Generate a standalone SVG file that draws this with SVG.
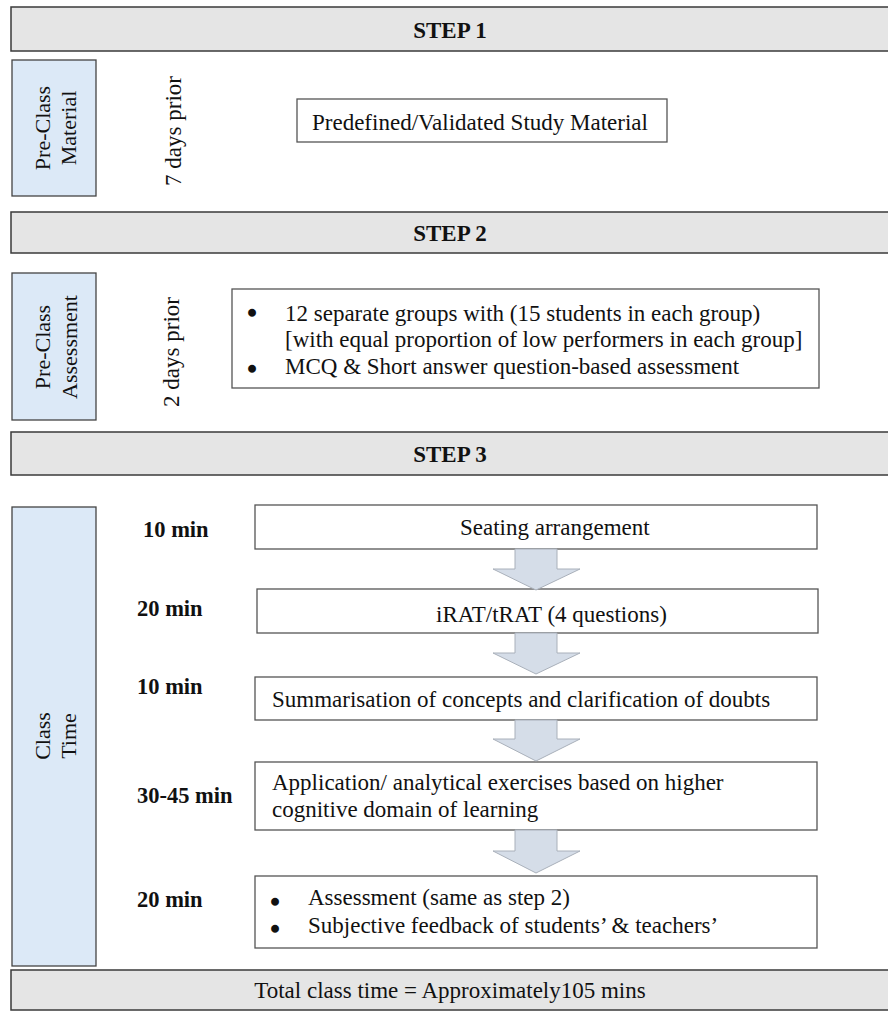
<svg xmlns="http://www.w3.org/2000/svg" width="888" height="1012" viewBox="0 0 888 1012">
<defs>
<style>
.bg{fill:#ffffff}
.banner{fill:#e5e5e5;stroke:#3a3a3a;stroke-width:1.5}
.side{fill:#dce9f7;stroke:#444;stroke-width:1.3}
.box{fill:#ffffff;stroke:#555;stroke-width:1.3}
.arrow{fill:#d5dde8;stroke:#a9b0ba;stroke-width:1}
.t{font-family:"Liberation Serif","Times New Roman",serif;font-size:23px;fill:#111}
.bul{font-family:"Liberation Serif","Times New Roman",serif;font-size:23px;fill:#111;stroke:#111;stroke-width:2.4;stroke-linejoin:round}
.b{font-family:"Liberation Serif","Times New Roman",serif;font-size:23px;font-weight:bold;fill:#111}
.tm{font-family:"Liberation Serif","Times New Roman",serif;font-size:22.5px;font-weight:bold;fill:#111}
.v{font-family:"Liberation Serif","Times New Roman",serif;font-size:22px;fill:#111;text-anchor:middle}
.c{text-anchor:middle}
</style>
</defs>
<rect class="bg" x="0" y="0" width="888" height="1012"/>

<g id="step1">
<rect class="banner" x="11" y="7" width="890" height="44"/>
<text class="b c" x="450" y="38">STEP 1</text>
</g>
<g id="preclass-material">
<rect class="side" x="12" y="60" width="84" height="136"/>
<text class="v" transform="translate(50,128) rotate(-90)">Pre-Class</text>
<text class="v" transform="translate(76,128) rotate(-90)">Material</text>
</g>
<g id="days7">
<text class="t" text-anchor="middle" transform="translate(181,131) rotate(-90)">7 days prior</text>
</g>
<g id="study-material">
<rect class="box" x="297" y="99" width="370" height="43"/>
<text class="t" x="312" y="130">Predefined/Validated Study Material</text>
</g>

<g id="step2">
<rect class="banner" x="11" y="212" width="890" height="41"/>
<text class="b c" x="450" y="241">STEP 2</text>
</g>
<g id="preclass-assessment">
<rect class="side" x="12" y="273" width="84" height="147"/>
<text class="v" transform="translate(50,347) rotate(-90)">Pre-Class</text>
<text class="v" transform="translate(77,347) rotate(-90)">Assessment</text>
</g>
<g id="days2">
<text class="t" text-anchor="middle" transform="translate(179,352) rotate(-90)">2 days prior</text>
</g>
<g id="groups">
<rect class="box" x="232" y="289" width="587" height="99"/>
<text class="bul" x="248" y="321">•</text>
<text class="t" x="285" y="321">12 separate groups with (15 students in each group)</text>
<text class="t" x="285" y="347">[with equal proportion of low performers in each group]</text>
<text class="bul" x="248" y="377">•</text>
<text class="t" x="285" y="374">MCQ &amp; Short answer question-based assessment</text>
</g>

<g id="step3">
<rect class="banner" x="11" y="432" width="890" height="43"/>
<text class="b c" x="450" y="462">STEP 3</text>
</g>
<g id="class-time">
<rect class="side" x="12" y="507" width="84" height="459"/>
<text class="v" transform="translate(50,736) rotate(-90)">Class</text>
<text class="v" transform="translate(76,736) rotate(-90)">Time</text>
</g>

<g id="time1"><text class="tm" x="143" y="537">10 min</text></g>
<g id="seating">
<rect class="box" x="255" y="505" width="562" height="44"/>
<text class="t" x="460" y="535">Seating arrangement</text>
</g>

<g id="time2"><text class="tm" x="137" y="616">20 min</text></g>
<g id="irat">
<rect class="box" x="257" y="589" width="561" height="44"/>
<text class="t" x="436" y="622">iRAT/tRAT (4 questions)</text>
</g>

<g id="time3"><text class="tm" x="137" y="694">10 min</text></g>
<g id="summary">
<rect class="box" x="255" y="677" width="562" height="43"/>
<text class="t" x="272" y="707">Summarisation of concepts and clarification of doubts</text>
</g>

<g id="time4"><text class="tm" x="137" y="803">30-45 min</text></g>
<g id="application">
<rect class="box" x="255" y="762" width="562" height="68"/>
<text class="t" x="272" y="790">Application/ analytical exercises based on higher</text>
<text class="t" x="272" y="817">cognitive domain of learning</text>
</g>

<g id="time5"><text class="tm" x="137" y="907">20 min</text></g>
<g id="final-assessment">
<rect class="box" x="255" y="876" width="562" height="72"/>
<text class="bul" x="271" y="910">•</text>
<text class="t" x="308" y="905">Assessment (same as step 2)</text>
<text class="bul" x="271" y="937">•</text>
<text class="t" x="308" y="933">Subjective feedback of students’ &amp; teachers’</text>
</g>

<g id="total">
<rect class="banner" x="11" y="970" width="890" height="40"/>
<text class="t c" x="450" y="998">Total class time = Approximately105 mins</text>
</g>

<g id="connectors">
<polygon class="arrow" points="515,549 557,549 557,569 580,569 536,590 493,569 515,569"/>
<polygon class="arrow" points="515,633 557,633 557,653 580,653 536,674 493,653 515,653"/>
<polygon class="arrow" points="515,720 557,720 557,739 580,739 536,761 493,739 515,739"/>
<polygon class="arrow" points="515,830 557,830 557,851 580,851 536,873 493,851 515,851"/>
</g>
</svg>
